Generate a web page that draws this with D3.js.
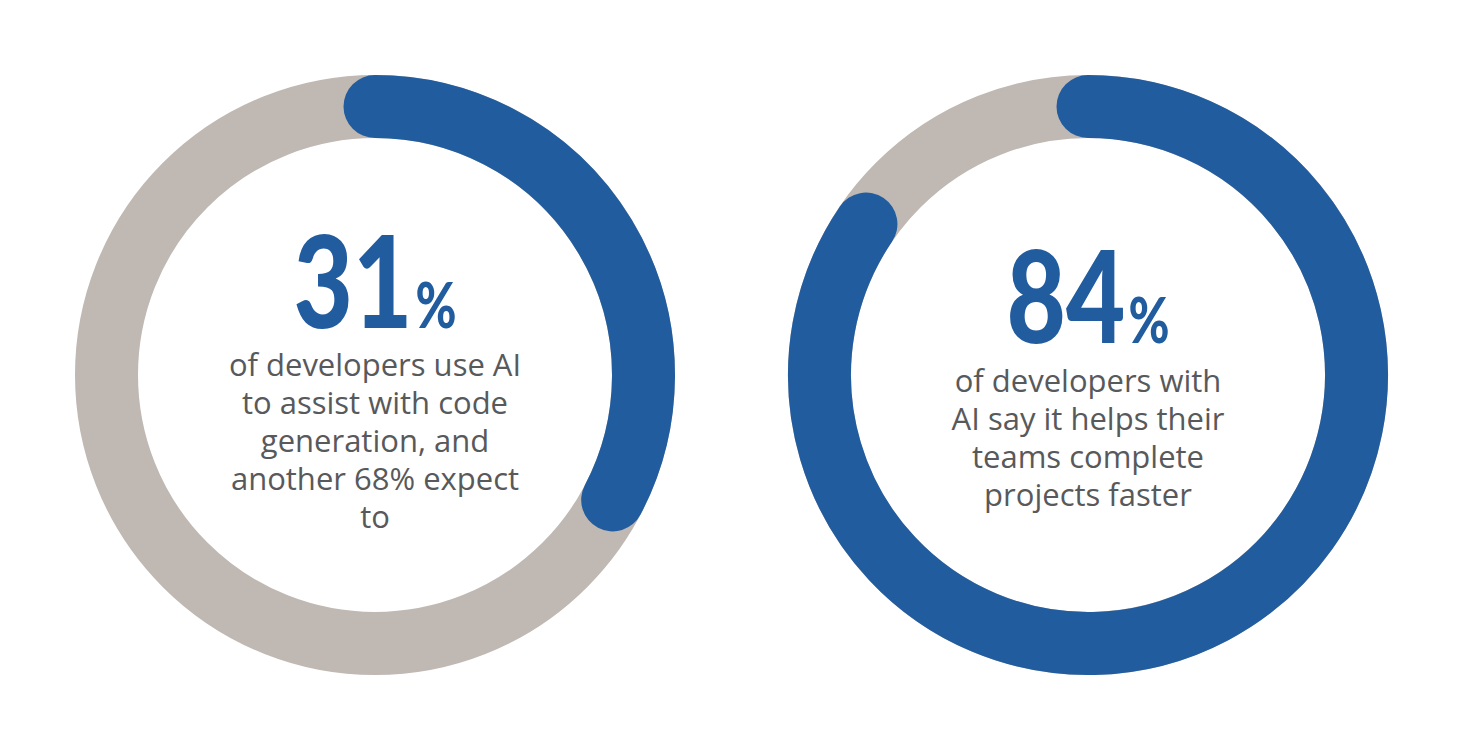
<!DOCTYPE html>
<html>
<head>
<meta charset="utf-8">
<script src="https://cdn.jsdelivr.net/npm/d3@7"></script>
<style>
  body { margin: 0; background: #fff; }
  svg { display: block; }
</style>
</head>
<body>
<div class="donuts"></div>
<script>
var width = 1458,
    height = 750

// values
var stats = [31, 84]
var bigLabels = ["31", "84"]
// arc length as it is drawn in the picture (the left one overshoots its label a bit)
var arcShare = [32.7, 84.5]
var captions = [
  ["of developers use AI", "to assist with code", "generation, and", "another 68% expect", "to"],
  ["of developers with", "AI say it helps their", "teams complete", "projects faster"]
]

var blue = "#215c9f",
    grey = "#bfb8b3",
    textGrey = "#58595b"

var svg = d3.select(".donuts")
  .append("svg")
  .attr("width", width)
  .attr("height", height)

var centerX = d3.scalePoint()
  .domain(d3.range(stats.length))
  .range([375, 1088])

var angle = d3.scaleLinear()
  .domain([0, 100])
  .range([0, 2 * Math.PI])

var ringR = 268.5,
    ringW = 63

var donut = svg.selectAll("g.donut")
  .data(arcShare)
  .enter()
  .append("g")
  .attr("class", "donut")
  .attr("transform", function(d, i) { return "translate(" + centerX(i) + ",375)"; })

// grey track
donut.append("circle")
  .attr("r", ringR)
  .attr("fill", "none")
  .attr("stroke", grey)
  .attr("stroke-width", ringW)

// blue value arc, round caps
donut.append("path")
  .attr("fill", "none")
  .attr("stroke", blue)
  .attr("stroke-width", ringW)
  .attr("stroke-linecap", "round")
  .attr("d", function(d) {
    var p = d3.path()
    var a0 = -Math.PI / 2
    var a1 = a0 + angle(d)
    p.moveTo(ringR * Math.cos(a0), ringR * Math.sin(a0))
    p.arc(0, 0, ringR, a0, a1, false)
    return p.toString()
  })

// big percentage
var bigY = [-47, -32]
var big = donut.append("text")
  .attr("text-anchor", "middle")
  .attr("fill", blue)
  .attr("font-family", "Lato, 'Open Sans', sans-serif")
  .attr("font-weight", 900)
  .attr("transform", function(d, i) { return "translate(0," + bigY[i] + ") scale(0.8,1)"; })

big.append("tspan")
  .attr("font-size", 128)
  .text(function(d, i) { return bigLabels[i]; })

big.append("tspan")
  .attr("font-size", 62)
  .attr("dx", 4)
  .text("%")

// caption lines
var capY = [1, 17]
donut.each(function(d, i) {
  d3.select(this).append("g")
    .selectAll("text")
    .data(captions[i])
    .enter()
    .append("text")
    .attr("text-anchor", "middle")
    .attr("fill", textGrey)
    .attr("font-family", "'Open Sans', sans-serif")
    .attr("font-size", 31)
    .attr("y", function(t, j) { return capY[i] + j * 38; })
    .text(function(t) { return t; })
})
</script>
</body>
</html>
